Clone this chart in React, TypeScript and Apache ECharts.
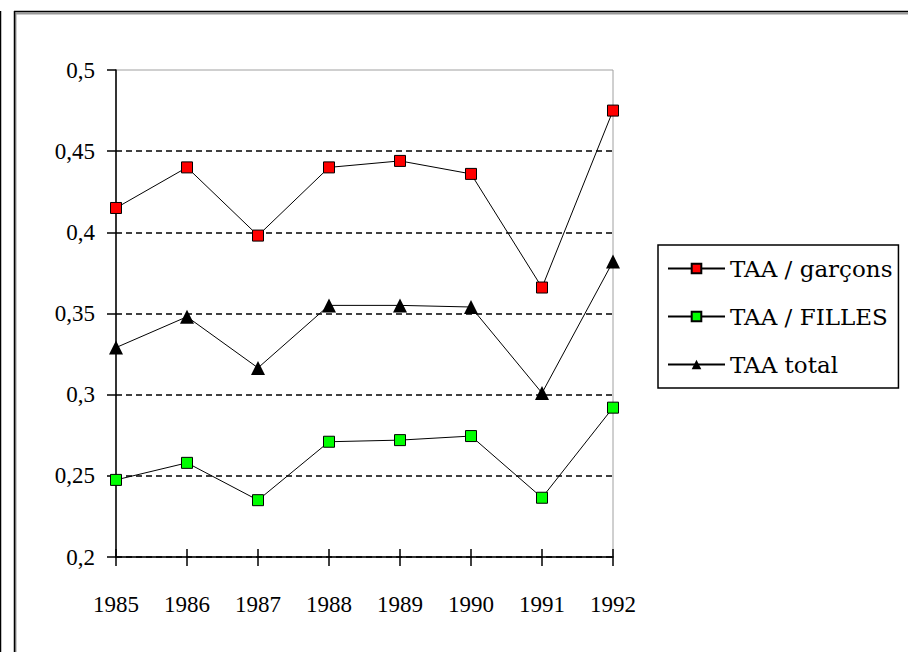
import React, { useEffect, useRef } from "react";
import * as echarts from "echarts";

const years = ["1985", "1986", "1987", "1988", "1989", "1990", "1991", "1992"];
const garcons = [0.415, 0.44, 0.398, 0.44, 0.444, 0.436, 0.366, 0.475];
const filles = [0.2475, 0.258, 0.235, 0.271, 0.272, 0.2745, 0.2365, 0.292];
const total = [0.329, 0.348, 0.3165, 0.355, 0.355, 0.354, 0.301, 0.382];
const seriesNames = ["TAA / garçons", "TAA / FILLES", "TAA total"];

const axisFont = "Liberation Serif";
const legendFont = "DejaVu Serif";

export default function App() {
  const ref = useRef<HTMLDivElement>(null);
  useEffect(() => {
    document.body.style.margin = "0";
    const chart = echarts.init(ref.current!, null, { renderer: "svg" });
    const lineStyle = { color: "#000", width: 1 };
    chart.setOption({
      animation: false,
      backgroundColor: "#fff",
      textStyle: { fontFamily: axisFont },
      grid: {
        left: 116,
        top: 70,
        width: 497,
        height: 487,
        show: true,
        borderColor: "#a0a0a0",
        borderWidth: 1,
        backgroundColor: "transparent",
      },
      xAxis: [
        {
          type: "category",
          data: years,
          boundaryGap: false,
          axisLine: { lineStyle: { color: "#000", width: 1.5 } },
          axisTick: { length: 9, lineStyle: { color: "#000", width: 1.5 } },
          axisLabel: { margin: 36, color: "#000", fontFamily: axisFont, fontSize: 23 },
          splitLine: { show: false },
        },
        {
          type: "category",
          data: years,
          boundaryGap: false,
          position: "bottom",
          axisLine: { show: false },
          axisTick: { inside: true, length: 8, lineStyle: { color: "#000", width: 1.5 } },
          axisLabel: { show: false },
          splitLine: { show: false },
        },
      ],
      yAxis: {
        type: "value",
        min: 0.2,
        max: 0.5,
        interval: 0.05,
        axisLine: { show: true, lineStyle: { color: "#000", width: 1.5 } },
        axisTick: { show: true, length: 9, lineStyle: { color: "#000", width: 1.5 } },
        axisLabel: {
          margin: 21,
          color: "#000",
          fontFamily: axisFont,
          fontSize: 23,
          formatter: (v: number) => String(parseFloat(v.toFixed(2))).replace(".", ","),
        },
        splitLine: {
          show: true,
          lineStyle: {
            color: ["#000", "#000", "#000", "#000", "#000", "#000", "transparent"],
            type: [6, 4],
            width: 1.5,
          },
        },
      },
      legend: {
        orient: "vertical",
        left: 658,
        top: 245,
        padding: [12, 6, 12, 9],
        itemGap: 25,
        itemWidth: 57,
        itemHeight: 12,
        borderColor: "#000",
        borderWidth: 1.5,
        backgroundColor: "#fff",
        formatter: (name: string) => "{t|" + name + "}",
        textStyle: {
          fontFamily: legendFont,
          fontSize: 23,
          color: "#000",
          rich: { t: { fontFamily: legendFont, fontSize: 23, color: "#000" } },
        },
        data: seriesNames,
      },
      series: [
        {
          name: seriesNames[0],
          type: "line",
          data: garcons,
          symbol: "rect",
          symbolSize: 11,
          lineStyle,
          itemStyle: { color: "#ff0000", borderColor: "#000", borderWidth: 1 },
          z: 3,
        },
        {
          name: seriesNames[1],
          type: "line",
          data: filles,
          symbol: "rect",
          symbolSize: 11,
          lineStyle,
          itemStyle: { color: "#00ff00", borderColor: "#000", borderWidth: 1 },
          z: 3,
        },
        {
          name: seriesNames[2],
          type: "line",
          data: total,
          symbol: "triangle",
          symbolSize: 14,
          lineStyle,
          itemStyle: { color: "#000", borderColor: "#000", borderWidth: 0 },
          z: 3,
        },
      ],
      graphic: [
        { type: "line", shape: { x1: 0.5, y1: 11, x2: 0.5, y2: 652 }, style: { stroke: "#000", lineWidth: 1.5 }, silent: true },
        { type: "line", shape: { x1: 15.5, y1: 13, x2: 15.5, y2: 652 }, style: { stroke: "#999", lineWidth: 2 }, silent: true },
        { type: "line", shape: { x1: 15, y1: 13.5, x2: 908, y2: 13.5 }, style: { stroke: "#999", lineWidth: 2 }, silent: true },
        { type: "line", shape: { x1: 14.5, y1: 11, x2: 14.5, y2: 652 }, style: { stroke: "#000", lineWidth: 1.5 }, silent: true },
        { type: "line", shape: { x1: 14, y1: 11.5, x2: 908, y2: 11.5 }, style: { stroke: "#000", lineWidth: 1.5 }, silent: true },
      ],
    });
    return () => chart.dispose();
  }, []);
  return <div ref={ref} style={{ position: "fixed", left: 0, top: 0, width: 908, height: 652 }} />;
}
